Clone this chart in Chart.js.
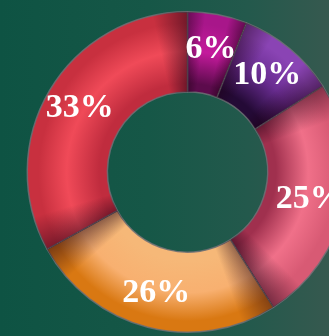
<!DOCTYPE html>
<html>
<head>
<meta charset="utf-8">
<script src="https://cdn.jsdelivr.net/npm/chart.js@4.4.1/dist/chart.umd.min.js"></script>
<style>
  html, body { margin: 0; padding: 0; width: 329px; height: 336px; overflow: hidden; }
  body { background: linear-gradient(90deg, #0e5343 0%, #165747 45%, #23594c 75%, #36594f 100%); position: relative; }
  #wrap { position: absolute; left: 0; top: 0; width: 375px; height: 344px; }
</style>
</head>
<body>
<div id="wrap"><canvas id="donut" width="375" height="344"></canvas></div>
<script>
// Share of each segment, clockwise from twelve o'clock
const segments = ['Segment A', 'Segment B', 'Segment C', 'Segment D', 'Segment E'];
const shares = [6, 10, 25, 26, 33];
// Tube shading for each ring: [inner edge, middle, outer edge]
const shades = [
  ['#5c0b4c', '#c41a9c', '#a8168a'],
  ['#240a36', '#6a2d92', '#8a44b4'],
  ['#a0304e', '#f07089', '#d85a74'],
  ['#f6b878', '#f8b070', '#d97812'],
  ['#c02c3e', '#f04a58', '#c8303f']
];
const CUTOUT = 0.5;

// Radial gradient across the ring, built from the chart area the arcs are laid out in
function ringFill(ctx) {
  const chart = ctx.chart;
  const area = chart.chartArea;
  const s = shades[ctx.dataIndex];
  if (!area) return s[1];
  const cx = (area.left + area.right) / 2;
  const cy = (area.top + area.bottom) / 2;
  const outer = Math.min(area.right - area.left, area.bottom - area.top) / 2;
  const inner = outer * CUTOUT;
  const g = chart.ctx.createRadialGradient(cx, cy, inner, cx, cy, outer);
  g.addColorStop(0, s[0]);
  g.addColorStop(0.1, s[0]);
  g.addColorStop(0.5, s[1]);
  g.addColorStop(0.85, s[2]);
  g.addColorStop(1, s[2]);
  return g;
}

// Soft shadow along the edges where neighbouring segments meet
const edgeShadow = {
  id: 'edgeShadow',
  afterDatasetsDraw(chart) {
    const c = chart.ctx;
    const meta = chart.getDatasetMeta(0);
    meta.data.forEach((arc) => {
      const span = arc.endAngle - arc.startAngle;
      c.save();
      c.beginPath();
      c.arc(arc.x, arc.y, arc.outerRadius, arc.startAngle, arc.endAngle);
      c.arc(arc.x, arc.y, arc.innerRadius, arc.endAngle, arc.startAngle, true);
      c.closePath();
      c.clip();
      const g = c.createConicGradient(arc.startAngle, arc.x, arc.y);
      const f = span / (Math.PI * 2);
      const w = Math.min(0.035, f * 0.3);
      g.addColorStop(0, 'rgba(30,0,20,0.45)');
      g.addColorStop(w, 'rgba(30,0,20,0)');
      g.addColorStop(Math.max(w, f - w), 'rgba(30,0,20,0)');
      g.addColorStop(f, 'rgba(30,0,20,0.5)');
      g.addColorStop(Math.min(1, f + 0.001), 'rgba(30,0,20,0)');
      c.fillStyle = g;
      c.fillRect(arc.x - arc.outerRadius, arc.y - arc.outerRadius, arc.outerRadius * 2, arc.outerRadius * 2);
      c.restore();
    });
  }
};

const percentLabels = {
  id: 'percentLabels',
  afterDatasetsDraw(chart) {
    const c = chart.ctx;
    const meta = chart.getDatasetMeta(0);
    c.save();
    c.font = 'bold 34px "Liberation Serif", serif';
    c.fillStyle = '#ffffff';
    c.textAlign = 'center';
    c.textBaseline = 'middle';
    meta.data.forEach((arc, i) => {
      const mid = (arc.startAngle + arc.endAngle) / 2;
      const r = (arc.innerRadius + arc.outerRadius) / 2 + 5;
      const x = arc.x + Math.cos(mid) * r;
      const y = arc.y + Math.sin(mid) * r;
      c.fillText(shares[i] + '%', x, y);
    });
    c.restore();
  }
};

new Chart(document.getElementById('donut'), {
  type: 'doughnut',
  data: {
    labels: segments,
    datasets: [{
      data: shares,
      backgroundColor: ringFill,
      borderColor: 'rgba(110,112,118,0.85)',
      borderWidth: 1.5
    }]
  },
  options: {
    responsive: false,
    animation: false,
    cutout: (CUTOUT * 100) + '%',
    layout: { padding: 11 },
    plugins: { legend: { display: false }, tooltip: { enabled: false } }
  },
  plugins: [edgeShadow, percentLabels]
});
</script>
</body>
</html>
